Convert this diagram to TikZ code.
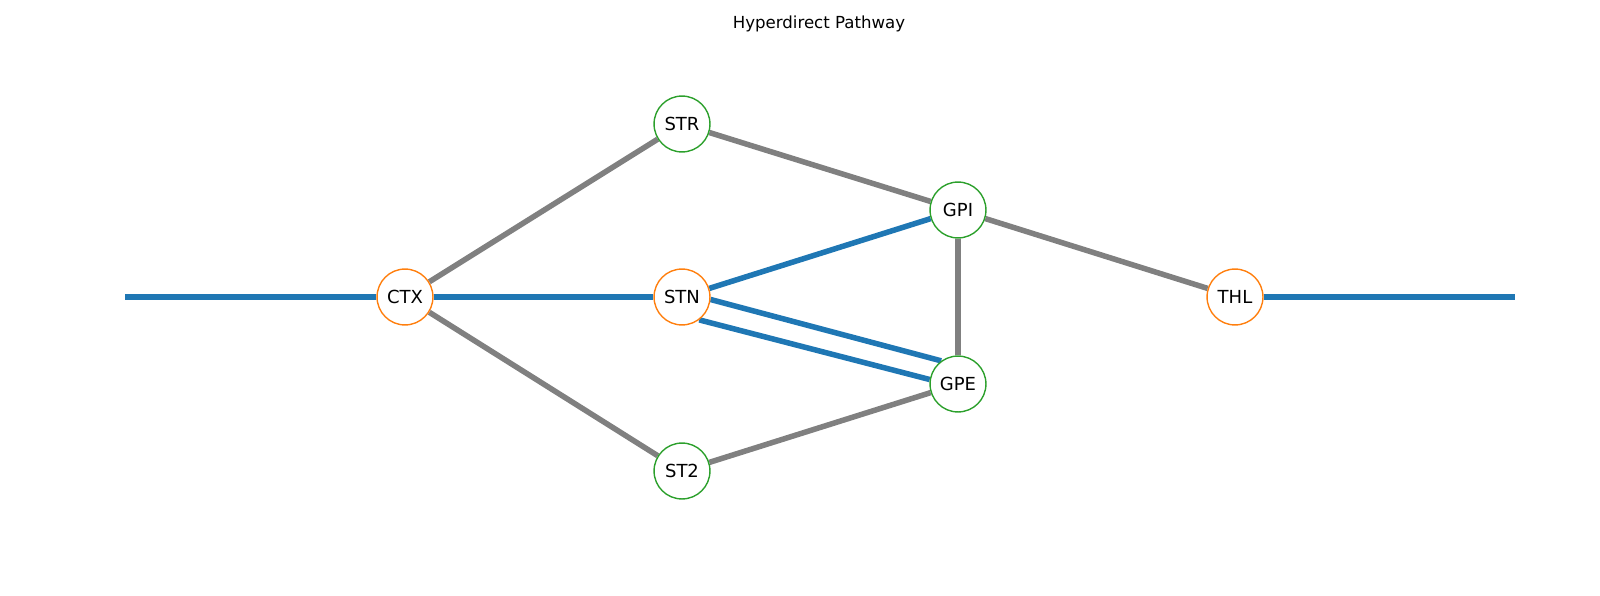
\documentclass[tikz,border=0pt]{standalone}
\usepackage{fontspec}
\setmainfont{DejaVu Sans}
\definecolor{tabblue}{RGB}{31, 119, 180}
\definecolor{taborange}{RGB}{255, 127, 14}
\definecolor{tabgreen}{RGB}{44, 160, 44}
\definecolor{edgegray}{RGB}{128, 128, 128}
\usetikzlibrary{calc, backgrounds}

\begin{document}
\begin{tikzpicture}[
    x=0.254mm, y=-0.254mm,
    every node/.append style={font=\fontsize{13}{15}\selectfont},
  ]

  \tikzset{
    nucleus/.style={
      circle, fill=white, line width=1pt,
      minimum size=14.2mm, inner sep=0pt,
    },
    nucleus-io/.style={nucleus, draw=taborange},
    nucleus-bg/.style={nucleus, draw=tabgreen},
    link-plain/.style={line width=4pt, color=edgegray},
    link-hyper/.style={line width=4pt, color=tabblue},
    plottitle/.style={font=\fontsize{12}{14}\selectfont, anchor=base},
  }

  \useasboundingbox (0, 0) rectangle (1600, 596);

  %% ---------------- NUCLEI ----------------
  \node[nucleus-io] (ctx) at (405, 297) {CTX};
  \node[nucleus-io] (stn) at (682, 297) {STN};
  \node[nucleus-io] (thl) at (1235, 297) {THL};
  \node[nucleus-bg] (str) at (682, 124) {STR};
  \node[nucleus-bg] (st2) at (682, 471) {ST2};
  \node[nucleus-bg] (gpi) at (958, 210) {GPI};
  \node[nucleus-bg] (gpe) at (958, 384) {GPE};
  % free ends of the pathway
  \coordinate (input) at (125, 297);
  \coordinate (output) at (1515, 297);

  %% ---------------- CONNECTIONS ----------------
  \begin{scope}[on background layer]
    % indirect / direct loops
    \draw[link-plain] (ctx) -- (str);
    \draw[link-plain] (ctx) -- (st2);
    \draw[link-plain] (str) -- (gpi);
    \draw[link-plain] (gpi) -- (thl);
    \draw[link-plain] (gpi) -- (gpe);
    \draw[link-plain] (st2) -- (gpe);
    % hyperdirect route
    \draw[link-hyper] (input) -- (ctx);
    \draw[link-hyper] (ctx) -- (stn);
    \draw[link-hyper] (stn) -- (gpi);
    \draw[link-hyper] (stn.-5) -- (gpe.126);
    \draw[link-hyper] (stn.-53) -- (gpe.171);
    \draw[link-hyper] (thl) -- (output);
  \end{scope}

  % title
  \node[plottitle] (title) at (819, 29) {Hyperdirect Pathway};

\end{tikzpicture}
\end{document}
